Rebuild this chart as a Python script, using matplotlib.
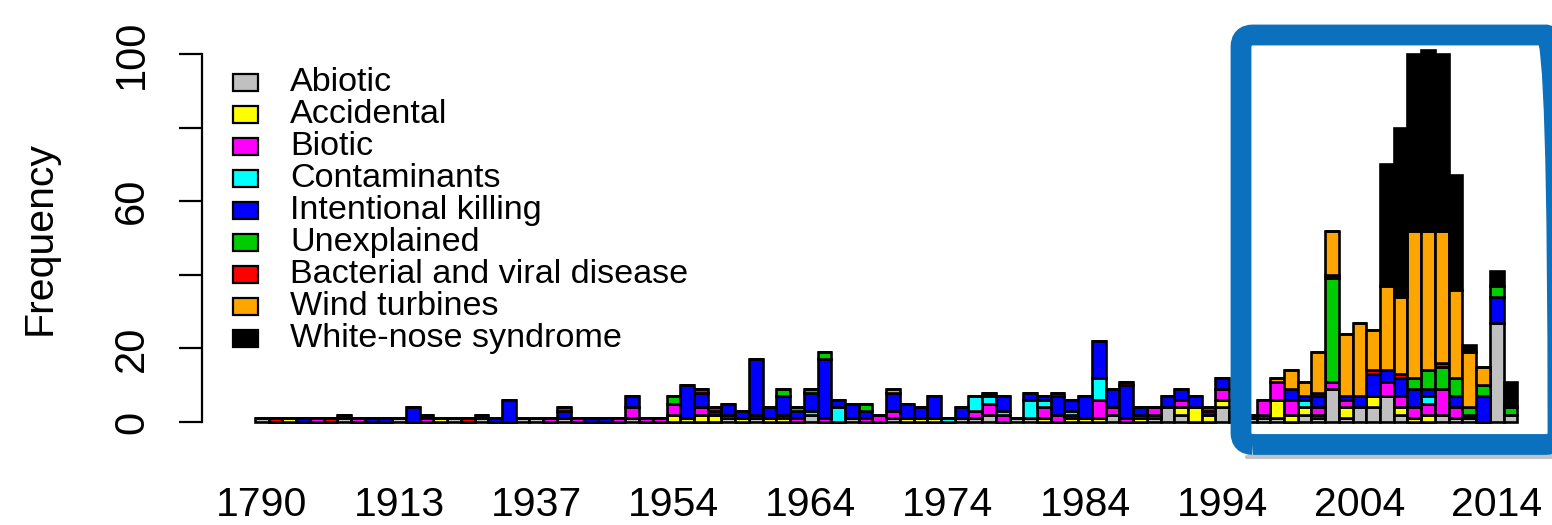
import matplotlib
matplotlib.use('Agg')
import matplotlib.pyplot as plt
from matplotlib.patches import Rectangle, FancyBboxPatch
from matplotlib.lines import Line2D
from matplotlib.transforms import IdentityTransform
from matplotlib import font_manager as fm
import numpy as np

# ---------------- data ----------------
years = [1790, 1830, 1850, 1870, 1880, 1890, 1895, 1900, 1905, 1910,
         1913, 1915, 1917, 1920, 1922, 1925, 1927, 1930, 1932, 1935,
         1937, 1938, 1940, 1941, 1943, 1945, 1947, 1948, 1950, 1952,
         1954, 1955, 1956, 1957, 1958, 1959, 1960, 1961, 1962, 1963,
         1964, 1965, 1966, 1967, 1968, 1969, 1970, 1971, 1972, 1973,
         1974, 1975, 1976, 1977, 1978, 1979, 1980, 1981, 1982, 1983,
         1984, 1985, 1986, 1987, 1988, 1989, 1990, 1991, 1992, 1993,
         1994, 1995, 1996, 1997, 1998, 1999, 2000, 2001, 2002, 2003,
         2004, 2005, 2006, 2007, 2008, 2009, 2010, 2011, 2012, 2013,
         2014, 2015]

categories = ["Abiotic", "Accidental", "Biotic", "Contaminants", "Intentional killing",
              "Unexplained", "Bacterial and viral disease", "Wind turbines", "White-nose syndrome"]

abiotic = [1, 0, 0, 0, 0, 0, 1, 0, 0, 0,
           1, 0, 0, 0, 1, 0, 1, 0, 0, 1,
           1, 0, 1, 0, 0, 0, 0, 1, 0, 0,
           0, 0, 0, 0, 1, 0, 1, 0, 0, 0,
           2, 0, 0, 1, 0, 0, 1, 0, 0, 0,
           0, 1, 1, 2, 0, 1, 1, 0, 0, 0,
           0, 0, 2, 0, 0, 1, 4, 2, 0, 0,
           4, 1, 1, 1, 1, 0, 2, 1, 9, 1,
           4, 4, 7, 2, 0, 0, 2, 1, 1, 0,
           27, 2]
accidental = [0, 0, 1, 0, 0, 0, 0, 0, 0, 0,
              0, 0, 0, 1, 0, 0, 0, 0, 0, 0,
              0, 0, 0, 0, 0, 0, 0, 0, 0, 0,
              2, 1, 2, 2, 1, 1, 0, 1, 1, 0,
              0, 0, 0, 0, 0, 0, 0, 1, 1, 1,
              0, 0, 0, 0, 0, 0, 0, 1, 0, 1,
              1, 1, 0, 0, 1, 1, 0, 2, 4, 2,
              2, 1, 0, 1, 5, 2, 2, 1, 0, 3,
              0, 3, 0, 2, 1, 2, 0, 0, 0, 0,
              0, 0]
biotic = [0, 0, 0, 0, 1, 0, 0, 1, 0, 0,
          0, 0, 1, 0, 0, 0, 0, 0, 0, 0,
          0, 1, 0, 1, 0, 0, 1, 3, 1, 1,
          3, 0, 2, 0, 0, 0, 1, 0, 1, 1,
          0, 1, 0, 0, 1, 2, 2, 0, 0, 0,
          0, 0, 2, 3, 2, 0, 0, 3, 2, 1,
          0, 5, 2, 1, 0, 2, 0, 2, 0, 0,
          3, 0, 0, 4, 5, 4, 0, 2, 2, 2,
          0, 0, 4, 3, 3, 3, 7, 3, 0, 0,
          0, 0]
contaminants = [0, 0, 0, 0, 0, 0, 0, 0, 0, 0,
                0, 0, 0, 0, 0, 0, 0, 0, 0, 0,
                0, 0, 0, 0, 0, 0, 0, 0, 0, 0,
                0, 0, 0, 0, 0, 0, 0, 0, 0, 0,
                1, 0, 4, 0, 0, 0, 0, 0, 0, 0,
                1, 0, 4, 2, 1, 0, 5, 2, 0, 1,
                0, 6, 0, 0, 1, 0, 0, 0, 0, 0,
                0, 0, 0, 0, 0, 0, 2, 0, 0, 0,
                0, 0, 0, 0, 0, 2, 0, 0, 0, 0,
                0, 0]
intentional = [0, 0, 0, 1, 0, 0, 1, 0, 1, 1,
               0, 4, 1, 0, 0, 0, 1, 1, 6, 0,
               0, 0, 2, 0, 1, 1, 0, 3, 0, 0,
               0, 9, 4, 1, 3, 2, 15, 3, 5, 2,
               5, 16, 2, 4, 2, 0, 5, 4, 3, 6,
               0, 3, 0, 1, 4, 0, 2, 1, 5, 3,
               6, 10, 5, 9, 2, 0, 3, 3, 3, 1,
               3, 1, 1, 0, 0, 3, 1, 3, 0, 1,
               3, 6, 3, 5, 5, 2, 0, 3, 1, 7,
               7, 0]
unexplained = [0, 0, 0, 0, 0, 0, 0, 0, 0, 0,
               0, 0, 0, 0, 0, 0, 0, 0, 0, 0,
               0, 0, 0, 0, 0, 0, 0, 0, 0, 0,
               2, 0, 0, 0, 0, 0, 0, 0, 2, 1,
               1, 2, 0, 0, 2, 0, 0, 0, 0, 0,
               0, 0, 0, 0, 0, 0, 0, 0, 1, 0,
               0, 0, 0, 0, 0, 0, 0, 0, 0, 0,
               0, 0, 0, 0, 0, 0, 0, 0, 28, 0,
               0, 0, 0, 0, 3, 5, 6, 5, 2, 3,
               3, 2]
bacterial = [0, 1, 0, 0, 0, 1, 0, 0, 0, 0,
             0, 0, 0, 0, 0, 1, 0, 0, 0, 0,
             0, 0, 1, 0, 0, 0, 0, 0, 0, 0,
             0, 0, 1, 1, 0, 0, 0, 0, 0, 0,
             0, 0, 0, 0, 0, 0, 0, 0, 0, 0,
             0, 0, 0, 0, 0, 0, 0, 0, 0, 0,
             0, 0, 0, 1, 0, 0, 0, 0, 0, 1,
             0, 0, 0, 0, 0, 0, 0, 1, 1, 0,
             0, 1, 0, 1, 0, 0, 1, 0, 0, 0,
             0, 0]
wind = [0, 0, 0, 0, 0, 0, 0, 0, 0, 0,
        0, 0, 0, 0, 0, 0, 0, 0, 0, 0,
        0, 0, 0, 0, 0, 0, 0, 0, 0, 0,
        0, 0, 0, 0, 0, 0, 0, 0, 0, 0,
        0, 0, 0, 0, 0, 0, 1, 0, 0, 0,
        0, 0, 0, 0, 0, 0, 0, 0, 0, 0,
        0, 0, 0, 0, 0, 0, 0, 0, 0, 0,
        0, 0, 0, 0, 1, 5, 4, 11, 12, 17,
        20, 11, 23, 21, 40, 38, 36, 24, 15, 5,
        0, 0]
wns = [0, 0, 0, 0, 0, 0, 0, 0, 0, 0,
       0, 0, 0, 0, 0, 0, 0, 0, 0, 0,
       0, 0, 0, 0, 0, 0, 0, 0, 0, 0,
       0, 0, 0, 0, 0, 0, 0, 0, 0, 0,
       0, 0, 0, 0, 0, 0, 0, 0, 0, 0,
       0, 0, 0, 0, 0, 0, 0, 0, 0, 0,
       0, 0, 0, 0, 0, 0, 0, 0, 0, 0,
       0, 0, 0, 0, 0, 0, 0, 0, 0, 0,
       0, 0, 33, 46, 48, 49, 48, 31, 2, 0,
       4, 7]

colors = ["#C0C0C0", "#FFFF00", "#FF00FF", "#00FFFF", "#0000FF",
          "#00CD00", "#FF0000", "#FFA500", "#000000"]

yticks = [0, 20, 40, 60, 80, 100]
ytick_labels = ["0", "20", "", "60", "", "100"]

# ---------------- fonts ----------------
def has_font(name):
    try:
        fm.findfont(fm.FontProperties(family=name), fallback_to_default=False)
        return True
    except Exception:
        return False

base = "Liberation Sans" if has_font("Liberation Sans") else "DejaVu Sans"

# ---------------- figure ----------------
W, H = 1552, 525
fig = plt.figure(figsize=(W / 100, H / 100), dpi=100)
fig.patch.set_facecolor("white")

ax_left, ax_right, ax_top, ax_bot = 202, 1540, 30, 440
ax = fig.add_axes([ax_left / W, 1 - ax_bot / H, (ax_right - ax_left) / W, (ax_bot - ax_top) / H])
pitch, x0px = 13.72, 255.0
ppu, y0px = 3.68, 422.0
ax.set_xlim((ax_left - x0px) / pitch, (ax_right - x0px) / pitch)
ax.set_ylim((y0px - ax_bot) / ppu, (y0px - ax_top) / ppu)

series = [abiotic, accidental, biotic, contaminants, intentional,
          unexplained, bacterial, wind, wns]
n = len(years)
idx = np.arange(n)
bottom = np.zeros(n)
for vals, col in zip(series, colors):
    v = np.array(vals, dtype=float)
    ax.bar(idx, v, width=1.0, bottom=bottom, align="edge", color=col,
           edgecolor="black", linewidth=1.9, zorder=2)
    bottom += v

for s in ["top", "right", "bottom"]:
    ax.spines[s].set_visible(False)
ax.spines["left"].set_bounds(0, 100)
ax.spines["left"].set_linewidth(1.6)

ax.set_yticks(yticks)
ax.set_yticklabels(ytick_labels)
ax.tick_params(axis="y", length=16.8, width=1.6, pad=19, labelsize=30)
for lab in ax.get_yticklabels():
    lab.set_rotation(90)
    lab.set_va("center")
    lab.set_fontfamily(base)

tick_pos = [i + 0.5 for i in idx if i % 10 == 0]
tick_lab = [str(years[i]) for i in idx if i % 10 == 0]
ax.set_xticks(tick_pos)
ax.set_xticklabels(tick_lab)
ax.tick_params(axis="x", length=0, pad=33, labelsize=29.5)
for lab in ax.get_xticklabels():
    lab.set_fontfamily(base)

fig.text(40 / W, 1 - 238 / H, "Frequency", rotation=90, ha="center", va="center",
         fontsize=29.5, family=base)

# legend (manual, R style)
ident = IdentityTransform()
for k, (lab, col) in enumerate(zip(categories, colors)):
    yc = 82.7 + 31.95 * k
    fig.add_artist(Rectangle((233, H - (yc + 8.5)), 25, 17, transform=ident,
                             facecolor=col, edgecolor="black", linewidth=1.6))
    fig.text(290, H - yc, lab, transform=ident, ha="left", va="center",
             fontsize=24.6, family=base)

# highlight frame (pixel coordinates of the band centre line)
fx0, fy0, fx1, fy1 = 1241, 35, 1558, 444.5
shadow = Line2D([fx0 + 6, W], [H - 457, H - 457], transform=ident,
                color="#505050", alpha=0.35, linewidth=3.0, zorder=9,
                solid_capstyle="round")
frame = FancyBboxPatch((fx0, H - fy1), fx1 - fx0, fy1 - fy0,
                       boxstyle="round,pad=0,rounding_size=12", transform=ident,
                       fill=False, edgecolor="#0B70BD", linewidth=15, zorder=10)
fig.add_artist(shadow)
fig.add_artist(frame)

fig.savefig("out.png", dpi=100, facecolor="white")
